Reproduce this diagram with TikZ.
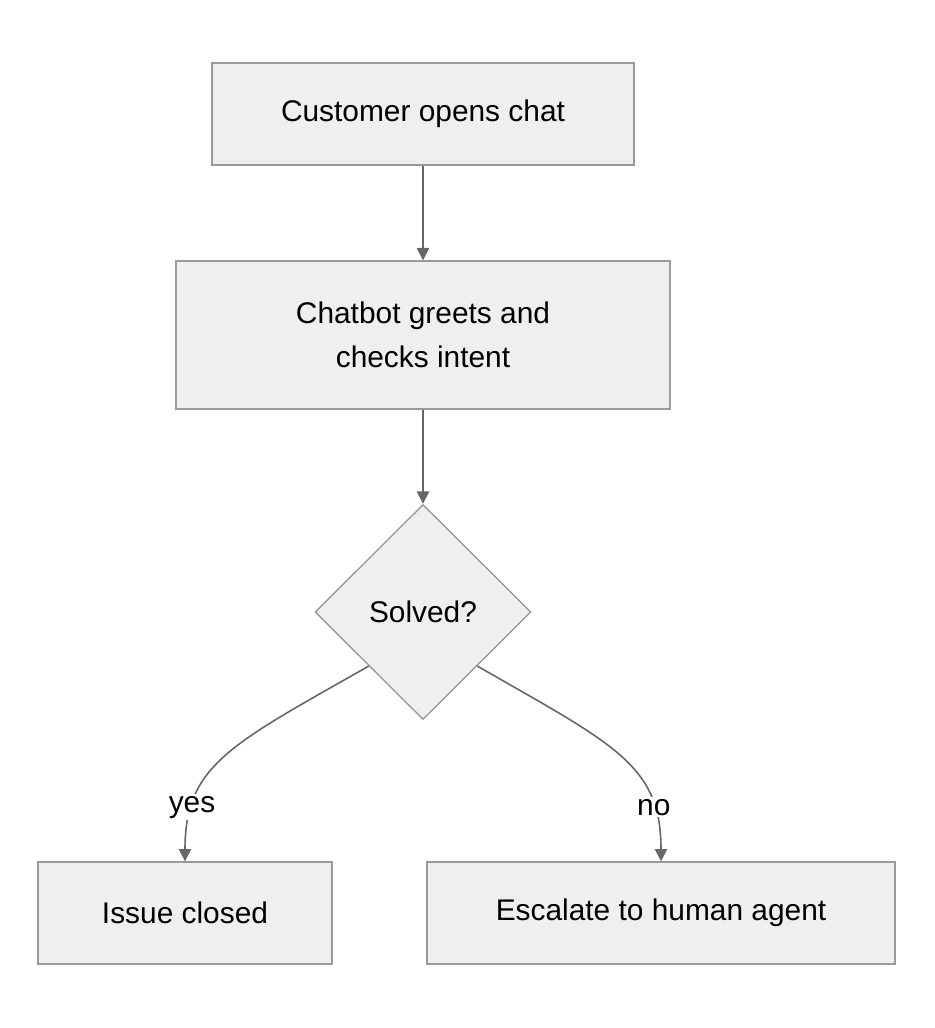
\documentclass[tikz,border=0pt]{standalone}
\usepackage{fontspec}
\setmainfont{Liberation Sans}
\usetikzlibrary{shapes.geometric,arrows.meta}
\definecolor{boxfill}{HTML}{EFEFEF}
\definecolor{boxline}{HTML}{9A9A9A}
\definecolor{edge}{HTML}{666666}
\begin{document}
\begin{tikzpicture}[
        box/.style={draw=boxline, fill=boxfill, line width=0.8pt, align=center, font=\fontsize{17}{25}\selectfont},
        arr/.style={draw=edge, line width=0.9pt, -{Triangle[length=7pt,width=7pt]}}
    ]
        \useasboundingbox (0,0) rectangle (18.68,-20.56);
        \node[box, minimum width=8.44cm, minimum height=2.04cm] (open) at (8.46,-2.28) {Customer opens chat};
        \node[box, minimum width=9.88cm, minimum height=2.96cm] (greet) at (8.46,-6.70) {Chatbot greets and\\checks intent};
        \node[box, diamond, minimum width=4.32cm, minimum height=4.3cm, inner sep=0pt] (solved) at (8.46,-12.24) {Solved?};
        \node[box, minimum width=5.88cm, minimum height=2.04cm] (closed) at (3.70,-18.26) {Issue closed};
        \node[box, minimum width=9.36cm, minimum height=2.04cm] (human) at (13.22,-18.26) {Escalate to human agent};

        \draw[arr] (open) -- (greet);
        \draw[arr] (greet) -- (solved);
        \draw[arr] (solved.south west) .. controls (4.6,-14.9) and (3.7,-15.3) .. node[pos=0.78, fill=white, font=\fontsize{17}{25}\selectfont, inner sep=1pt] {yes} (closed.north);
        \draw[arr] (solved.south east) .. controls (12.3,-14.9) and (13.22,-15.3) .. node[pos=0.78, fill=white, font=\fontsize{17}{25}\selectfont, inner sep=1pt] {no} (human.north);
    \end{tikzpicture}
\end{document}
